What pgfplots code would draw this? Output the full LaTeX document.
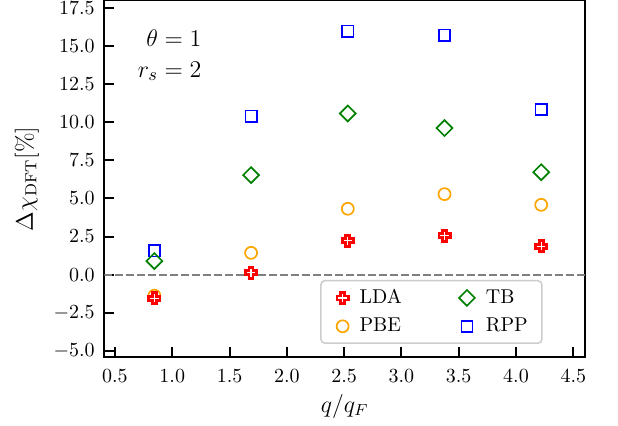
\documentclass[border=0pt]{standalone}
\usepackage{pgfplots}
\pgfplotsset{compat=1.18}
\definecolor{mplorange}{HTML}{FFA500}
\definecolor{mplgreen}{HTML}{008000}
\definecolor{mplblue}{HTML}{0000FF}
\definecolor{mplred}{HTML}{FF0000}
\pgfdeclareplotmark{fplus}{%
  \pgfpathmoveto{\pgfqpoint{-1.0pt}{2.8pt}}%
  \pgfpathlineto{\pgfqpoint{1.0pt}{2.8pt}}%
  \pgfpathlineto{\pgfqpoint{1.0pt}{1.0pt}}%
  \pgfpathlineto{\pgfqpoint{2.8pt}{1.0pt}}%
  \pgfpathlineto{\pgfqpoint{2.8pt}{-1.0pt}}%
  \pgfpathlineto{\pgfqpoint{1.0pt}{-1.0pt}}%
  \pgfpathlineto{\pgfqpoint{1.0pt}{-2.8pt}}%
  \pgfpathlineto{\pgfqpoint{-1.0pt}{-2.8pt}}%
  \pgfpathlineto{\pgfqpoint{-1.0pt}{-1.0pt}}%
  \pgfpathlineto{\pgfqpoint{-2.8pt}{-1.0pt}}%
  \pgfpathlineto{\pgfqpoint{-2.8pt}{1.0pt}}%
  \pgfpathlineto{\pgfqpoint{-1.0pt}{1.0pt}}%
  \pgfpathclose
  \pgfusepathqfillstroke}
\pgfplotsset{
  ldastyle/.style={only marks, mark=fplus, mark options={draw=mplred, fill=white, line width=1.4pt, line join=miter}},
  pbestyle/.style={only marks, mark=o, mark size=3pt, mark options={draw=mplorange, fill=none, line width=0.85pt}},
  tbstyle/.style={only marks, mark=square, mark size=2.8pt, mark options={draw=mplgreen, fill=none, line width=0.85pt, rotate=45}},
  rppstyle/.style={only marks, mark=square, mark size=2.8pt, mark options={draw=mplblue, fill=none, line width=0.85pt}},
}
\begin{document}
\begin{tikzpicture}
\begin{axis}[
  width=240.35pt, height=178.4pt, scale only axis,
  xmin=0.407, xmax=4.602, ymin=-5.42, ymax=17.98,
  xtick={0.5,1.0,1.5,2.0,2.5,3.0,3.5,4.0,4.5},
  ytick={-5,-2.5,0,2.5,5,7.5,10,12.5,15,17.5},
  tick pos=left, tick align=inside,
  major tick length=5pt,
  tick style={line width=1pt, black},
  axis line style={line width=1pt},
  tick label style={font=\fontsize{10}{12}\selectfont},
  x tick label style={yshift=-2.7pt},
  y tick label style={xshift=-1.3pt},
  xticklabel style={/pgf/number format/fixed, /pgf/number format/fixed zerofill, /pgf/number format/precision=1},
  yticklabel style={/pgf/number format/fixed, /pgf/number format/fixed zerofill, /pgf/number format/precision=1},
  xlabel={$q/q_F$},
  ylabel={$\Delta\chi_{\mathrm{DFT}}$[\%]},
  every axis x label/.style={at={(rel axis cs:0.5,0)}, anchor=base, yshift=-27.4pt, font=\fontsize{12}{14}\selectfont},
  every axis y label/.style={at={(rel axis cs:0,0.5)}, xshift=-38.7pt, rotate=90, anchor=center, font=\fontsize{12}{14}\selectfont},
  legend columns=2,
  legend cell align=left,
  legend style={at={(rel axis cs:0.912,0.0373)}, anchor=south east,
    draw=black!20, line width=0.75pt, rounded corners=2pt,
    fill=white, fill opacity=0.8, text opacity=1,
    font=\fontsize{10}{12}\selectfont,
    inner xsep=7.85pt, inner ysep=2.3pt, row sep=1.7pt,
    /tikz/every odd column/.append style={column sep=3.5pt},
    /tikz/every even column/.append style={column sep=26.6pt}},
]
\addplot[forget plot, gray, line width=1pt, dash pattern=on 3.7pt off 1.8pt] coordinates {(0.407,0) (4.602,0)};
\addplot[forget plot, rppstyle] coordinates {(0.844,1.56) (1.688,10.39) (2.532,15.97) (3.376,15.71) (4.220,10.83)};
\addplot[forget plot, tbstyle] coordinates {(0.844,0.89) (1.688,6.53) (2.532,10.57) (3.376,9.61) (4.220,6.72)};
\addplot[forget plot, pbestyle] coordinates {(0.844,-1.38) (1.688,1.43) (2.532,4.32) (3.376,5.28) (4.220,4.58)};
\addplot[forget plot, ldastyle] coordinates {(0.844,-1.55) (1.688,0.12) (2.532,2.22) (3.376,2.55) (4.220,1.87)};
\addlegendimage{ldastyle}
\addlegendentry{LDA}
\addlegendimage{tbstyle}
\addlegendentry{TB}
\addlegendimage{pbestyle}
\addlegendentry{PBE}
\addlegendimage{rppstyle}
\addlegendentry{RPP\hspace*{-2.8pt}}
\node[anchor=base east, inner sep=0pt, font=\fontsize{13}{15}\selectfont] at (axis cs:1.258,14.98) {$\theta = 1$};
\node[anchor=base east, inner sep=0pt, font=\fontsize{13}{15}\selectfont] at (axis cs:1.258,12.95) {$r_s = 2$};
\end{axis}
\pgfresetboundingbox
\path (-52.15pt,-34.35pt) rectangle (256.85pt,178.65pt);
\end{tikzpicture}
\end{document}
